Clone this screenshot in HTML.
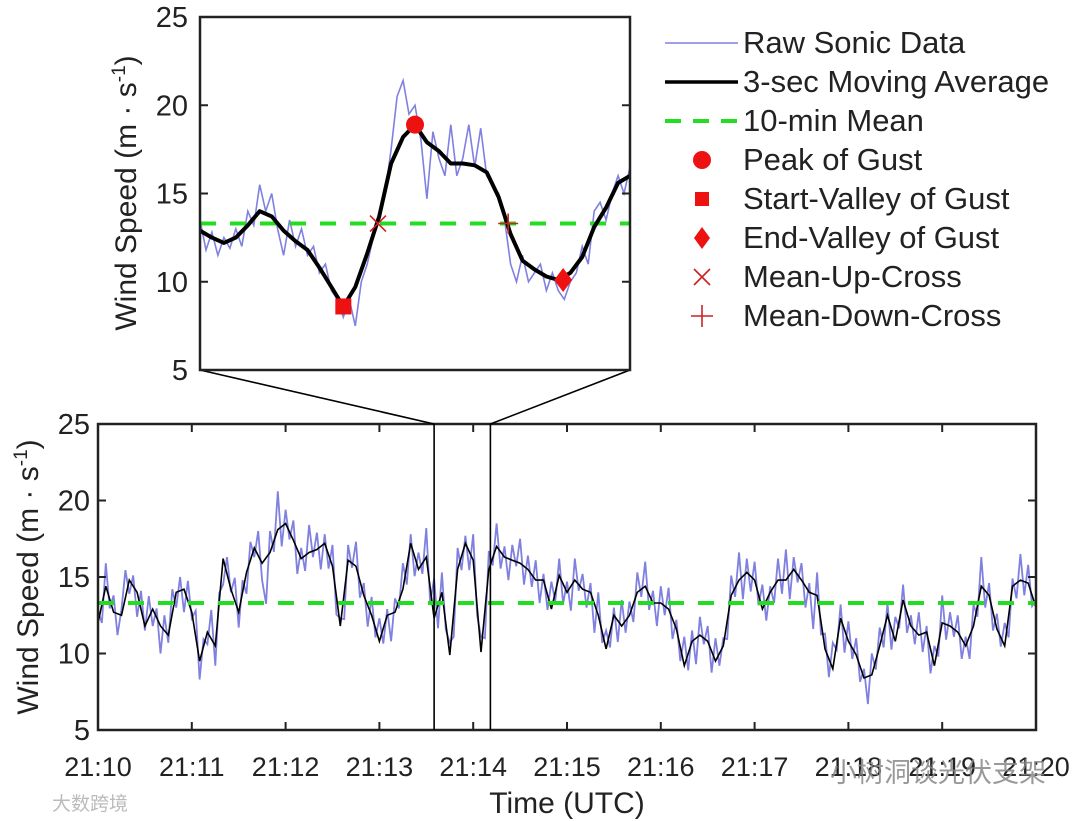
<!DOCTYPE html>
<html><head><meta charset="utf-8">
<style>
body{margin:0;background:#fff;}
svg{display:block;font-family:"Liberation Sans",Arial,sans-serif;}
</style></head>
<body>
<svg id="chart" width="1080" height="821" viewBox="0 0 1080 821" xmlns="http://www.w3.org/2000/svg">
<rect width="1080" height="821" fill="#fff"/>
<g id="main"></g>
<g id="inset"></g>
<g id="legend"></g>
<text x="1046" y="782" font-size="27" fill="#888" text-anchor="end" font-family="'Liberation Sans','Noto Sans CJK SC',sans-serif" opacity="0.85">小树洞谈光伏支架</text>
<text x="52" y="810" font-size="19" fill="#bbb" font-family="'Liberation Sans','Noto Sans CJK SC',sans-serif">大数跨境</text>
</svg>
<script>
// ---- main chart data (5 s steps, 21:10 - 21:20) ----
const mainMA = [12.0,14.4,12.7,12.5,14.8,14.0,11.8,12.9,11.8,11.2,14.0,14.2,12.7,9.5,11.4,10.5,16.2,14.2,12.7,15.3,
16.9,15.9,16.6,18.1,18.5,17.4,16.2,16.6,16.8,17.2,15.7,11.8,16.1,15.7,13.8,12.5,10.8,12.5,12.7,14.2,
17.2,15.5,16.3,12.3,14.0,9.9,15.5,17.2,16.1,10.1,15.5,17.0,16.3,16.1,15.9,15.5,14.8,14.8,12.9,15.1,
14.0,14.8,14.2,14.0,12.5,10.3,12.5,11.8,12.5,14.0,14.4,13.3,13.3,12.9,11.6,9.2,10.8,11.2,10.8,9.5,
10.5,13.8,14.8,15.3,14.8,12.9,14.0,14.8,14.8,15.5,14.8,14.0,13.8,10.3,9.0,12.3,10.8,9.9,8.4,8.6,
10.5,12.5,10.8,13.5,11.8,11.2,11.4,9.2,12.0,11.8,11.4,10.5,11.8,14.4,13.8,11.6,10.5,14.4,14.8,14.6,13.0];
// raw sonic deviations from the moving average (2.5 s steps)
const rawDev = [
0.8,-1.2,1.5,-0.6,1.1,-1.4,0.4,1.8,-0.9,0.7,-1.6,1.2,-0.3,1.4,-1.1,0.6,-1.8,1.0,-0.5,1.6,
-1.0,0.9,-1.5,1.3,-0.4,1.7,-1.2,0.5,-0.8,1.9,-1.3,0.6,-1.7,1.1,-0.2,1.5,-1.0,0.8,-1.4,1.2,
-0.6,1.6,-1.1,-3.0,1.4,-0.7,2.5,-1.3,0.9,-0.5,1.3,-1.6,0.7,-1.0,1.8,-0.4,1.1,-1.5,0.6,-0.9,
1.4,-1.2,0.5,-1.7,1.0,-0.3,1.6,-1.1,0.8,-1.4,1.2,-0.6,1.5,-1.0,0.4,-1.8,0.9,-0.5,1.7,-1.2,
0.6,-1.3,1.1,-0.7,1.9,-1.0,2.6,-1.5,1.3,-0.4,0.8,-1.6,1.4,-0.9,0.5,-1.2,1.7,-0.6,1.0,-1.8,
1.2,-0.5,1.5,-1.1,0.7,-1.4,1.0,-0.3,1.6,-1.2,0.9,-0.8,1.3,-1.5,0.4,-1.0,1.8,-0.6,1.1,-1.3,
0.7,-1.6,1.4,-0.4,1.0,-1.1,0.6,-1.9,1.5,-0.7,1.2,-1.0,0.5,-1.4,1.7,-0.8,0.9,-1.2,1.3,-0.5,
1.6,-1.0,0.8,-1.5,1.1,-0.6,1.4,-1.3,0.6,-0.9,1.9,-1.1,0.7,-1.7,1.2,-0.4,1.0,-1.4,1.5,-0.8,
0.5,-1.2,1.3,-0.6,1.8,-1.5,0.9,-1.0,1.2,-0.7,1.6,-1.3,0.4,-1.1,1.4,-0.9,2.0,-1.6,0.8,-0.5,
1.1,-1.4,0.6,-2.3,1.5,-0.8,1.0,-1.2,1.7,-0.4,0.9,-1.5,1.3,-0.7,1.1,-1.0,0.6,-1.8,1.4,-0.6,
1.2,-1.1,0.8,-1.4,1.6,-0.5,1.0,-1.3,0.7,-0.9,1.5,-1.2,0.4,-1.6,1.3,-0.8,1.8,-1.0,0.9,-0.5,
1.1,-1.3,0.6,-1.5,1.4,-0.7,1.9,-1.1,0.8,-1.2,1.0,-0.6,1.5,-1.4,0.5,-1.0,1.7,-0.9,1.2,-0.7,0.5];
const meanSpeed = 13.3;
const xTickLabels = ["21:10","21:11","21:12","21:13","21:14","21:15","21:16","21:17","21:18","21:19","21:20"];
const yTicks = [5,10,15,20,25];
const zoomWindow = [215, 251]; // seconds after 21:10
// ---- inset data (1 s MA, 0.5 s raw) ----
const insetMA = [12.9,12.5,12.2,12.5,13.2,14.0,13.7,12.9,12.3,11.8,10.8,9.7,8.6,9.7,11.6,13.7,16.7,18.2,18.9,17.9,
17.4,16.7,16.7,16.6,16.2,14.8,12.7,11.2,10.7,10.3,10.1,10.5,11.4,13.1,14.2,15.6,16.0];
const insetRaw = [13.5,11.8,12.8,11.5,12.5,11.9,13.0,12.0,14.0,13.2,15.5,14.0,15.0,13.0,11.5,13.5,12.0,13.0,11.5,12.0,
10.5,11.0,9.5,9.0,8.0,9.0,7.5,10.0,11.0,12.5,13.5,15.0,17.5,20.5,21.4,19.5,20.0,18.0,14.7,18.5,
17.0,16.0,18.9,16.0,17.0,18.9,16.5,18.7,16.0,15.5,15.0,13.5,11.0,10.0,11.5,10.0,10.5,11.0,9.5,10.5,
9.5,9.0,10.0,10.5,12.0,11.0,14.0,14.5,13.5,15.0,16.0,15.0,16.5];
const peakPt = [18, 18.9];
const startValleyPt = [12, 8.6];
const endValleyPt = [30.4, 10.1];
const upCrossPt = [14.9, 13.3];
const downCrossPt = [25.8, 13.3];
const legendLabels = ["Raw Sonic Data","3-sec Moving Average","10-min Mean","Peak of Gust","Start-Valley of Gust","End-Valley of Gust","Mean-Up-Cross","Mean-Down-Cross"];

const NS="http://www.w3.org/2000/svg";
function mk(parent,tag,attrs,text){const e=document.createElementNS(NS,tag);for(const k in attrs)e.setAttribute(k,attrs[k]);if(text!==undefined)e.textContent=text;parent.appendChild(e);return e;}

// main axes
const M={l:98,r:1036,t:424,b:730};
const mx=s=>M.l+(s/600)*(M.r-M.l);
const my=v=>M.b-(v-5)/20*(M.b-M.t);
const main=document.getElementById('main');
let rp=[];
for(let i=0;i<rawDev.length;i++){const s=i*2.5;const k=Math.min(Math.floor(s/5),mainMA.length-2);const f=(s-k*5)/5;const v=mainMA[k]*(1-f)+mainMA[k+1]*f+rawDev[i];rp.push(mx(s).toFixed(1)+","+my(v).toFixed(1));}
let e=mk(main,'polyline',{points:rp.join(' '),fill:'none',stroke:'#8080e0','stroke-width':1.8});


e=mk(main,'polyline',{points:mainMA.map((v,i)=>mx(i*5).toFixed(1)+","+my(v).toFixed(1)).join(' '),fill:'none',stroke:'#000','stroke-width':1.6});


e=mk(main,'line',{x1:M.l,x2:M.r,y1:my(meanSpeed),y2:my(meanSpeed),stroke:'#22dd22','stroke-width':4,'stroke-dasharray':'16 14'});


e=mk(main,'rect',{x:M.l,y:M.t,width:M.r-M.l,height:M.b-M.t,fill:'none',stroke:'#222','stroke-width':2.5});


xTickLabels.forEach((lab,i)=>{const x=mx(i*60);
 mk(main,'line',{x1:x,x2:x,y1:M.b,y2:M.b-8,stroke:'#222','stroke-width':2});
 mk(main,'line',{x1:x,x2:x,y1:M.t,y2:M.t+8,stroke:'#222','stroke-width':2});
 const t=mk(main,'text',{x:x,y:776,'font-size':27,'text-anchor':'middle',fill:'#222'},lab);
 
 });
yTicks.forEach(v=>{const y=my(v);
 mk(main,'line',{x1:M.l,x2:M.l+8,y1:y,y2:y,stroke:'#222','stroke-width':2});
 mk(main,'line',{x1:M.r,x2:M.r-8,y1:y,y2:y,stroke:'#222','stroke-width':2});
 const t=mk(main,'text',{x:M.l-8,y:y+10,'font-size':29,'text-anchor':'end',fill:'#222'},v);
 
 });
e=mk(main,'text',{x:567,y:813,'font-size':30,'text-anchor':'middle',fill:'#222'},'Time (UTC)');


e=mk(main,'text',{transform:'translate(38,577) rotate(-90)','font-size':30,'text-anchor':'middle',fill:'#222'});
e.innerHTML='Wind Speed (m · s<tspan dy="-11" font-size="19">-1</tspan><tspan dy="11">)</tspan>';


const zx1=mx(zoomWindow[0]),zx2=mx(zoomWindow[1]);
[zx1,zx2].forEach(x=>{const l=mk(main,'line',{x1:x,x2:x,y1:M.t,y2:M.b,stroke:'#000','stroke-width':1.6});
 
 });

// inset
const I={l:200,r:630,t:17,b:370};
const ix=s=>I.l+s/36*(I.r-I.l);
const iy=v=>I.b-(v-5)/20*(I.b-I.t);
const ins=document.getElementById('inset');
e=mk(ins,'line',{x1:I.l,y1:I.b,x2:zx1,y2:M.t,stroke:'#000','stroke-width':1.6});


e=mk(ins,'line',{x1:I.r,y1:I.b,x2:zx2,y2:M.t,stroke:'#000','stroke-width':1.6});


e=mk(ins,'polyline',{points:insetRaw.map((v,i)=>ix(i*0.5).toFixed(1)+","+iy(v).toFixed(1)).join(' '),fill:'none',stroke:'#8080e0','stroke-width':1.6});


e=mk(ins,'line',{x1:I.l,x2:I.r,y1:iy(meanSpeed),y2:iy(meanSpeed),stroke:'#22dd22','stroke-width':4,'stroke-dasharray':'16 14'});


e=mk(ins,'polyline',{points:insetMA.map((v,i)=>ix(i).toFixed(1)+","+iy(v).toFixed(1)).join(' '),fill:'none',stroke:'#000','stroke-width':4,'stroke-linejoin':'round'});


e=mk(ins,'circle',{cx:ix(peakPt[0]),cy:iy(peakPt[1]),r:9,fill:'#ee1111'});


e=mk(ins,'rect',{x:ix(startValleyPt[0])-8,y:iy(startValleyPt[1])-8,width:16,height:16,fill:'#ee1111'});


{const x=ix(endValleyPt[0]),y=iy(endValleyPt[1]);
e=mk(ins,'polygon',{points:`${x},${y-12} ${x+9},${y} ${x},${y+12} ${x-9},${y}`,fill:'#ee1111'});

}
{const x=ix(upCrossPt[0]),y=iy(upCrossPt[1]);
e=mk(ins,'path',{d:`M${x-8},${y-8}L${x+8},${y+8}M${x-8},${y+8}L${x+8},${y-8}`,stroke:'#cc2222','stroke-width':1.6});

}
{const x=ix(downCrossPt[0]),y=iy(downCrossPt[1]);
e=mk(ins,'path',{d:`M${x-10},${y}L${x+10},${y}M${x},${y-10}L${x},${y+10}`,stroke:'#cc2222','stroke-width':1.6});

}
e=mk(ins,'rect',{x:I.l,y:I.t,width:I.r-I.l,height:I.b-I.t,fill:'none',stroke:'#222','stroke-width':2.5});


yTicks.forEach(v=>{const y=iy(v);
 mk(ins,'line',{x1:I.l,x2:I.l+8,y1:y,y2:y,stroke:'#222','stroke-width':2});
 mk(ins,'line',{x1:I.r,x2:I.r-8,y1:y,y2:y,stroke:'#222','stroke-width':2});
 const t=mk(ins,'text',{x:I.l-12,y:y+10,'font-size':29,'text-anchor':'end',fill:'#222'},v);
 
 });
e=mk(ins,'text',{transform:'translate(136,193) rotate(-90)','font-size':30,'text-anchor':'middle',fill:'#222'});
e.innerHTML='Wind Speed (m · s<tspan dy="-11" font-size="19">-1</tspan><tspan dy="11">)</tspan>';



// legend
const lg=document.getElementById('legend');
legendLabels.forEach((lab,i)=>{const y=43+i*39,cx=702;
 const g=mk(lg,'g',{});
 
 
 if(i===0)mk(g,'line',{x1:665,x2:738,y1:y,y2:y,stroke:'#8080e0','stroke-width':1.6});
 if(i===1)mk(g,'line',{x1:665,x2:738,y1:y,y2:y,stroke:'#000','stroke-width':3.5});
 if(i===2)mk(g,'line',{x1:665,x2:738,y1:y,y2:y,stroke:'#22dd22','stroke-width':4,'stroke-dasharray':'16 12'});
 if(i===3)mk(g,'circle',{cx:cx,cy:y,r:9,fill:'#ee1111'});
 if(i===4)mk(g,'rect',{x:cx-7,y:y-7,width:14,height:14,fill:'#ee1111'});
 if(i===5)mk(g,'polygon',{points:`${cx},${y-11} ${cx+8},${y} ${cx},${y+11} ${cx-8},${y}`,fill:'#ee1111'});
 if(i===6)mk(g,'path',{d:`M${cx-8},${y-8}L${cx+8},${y+8}M${cx-8},${y+8}L${cx+8},${y-8}`,stroke:'#cc2222','stroke-width':1.6});
 if(i===7)mk(g,'path',{d:`M${cx-11},${y}L${cx+11},${y}M${cx},${y-11}L${cx},${y+11}`,stroke:'#cc2222','stroke-width':1.6});
 mk(g,'text',{x:743,y:y+10,'font-size':31,fill:'#222'},lab);});
</script>
</body></html>
